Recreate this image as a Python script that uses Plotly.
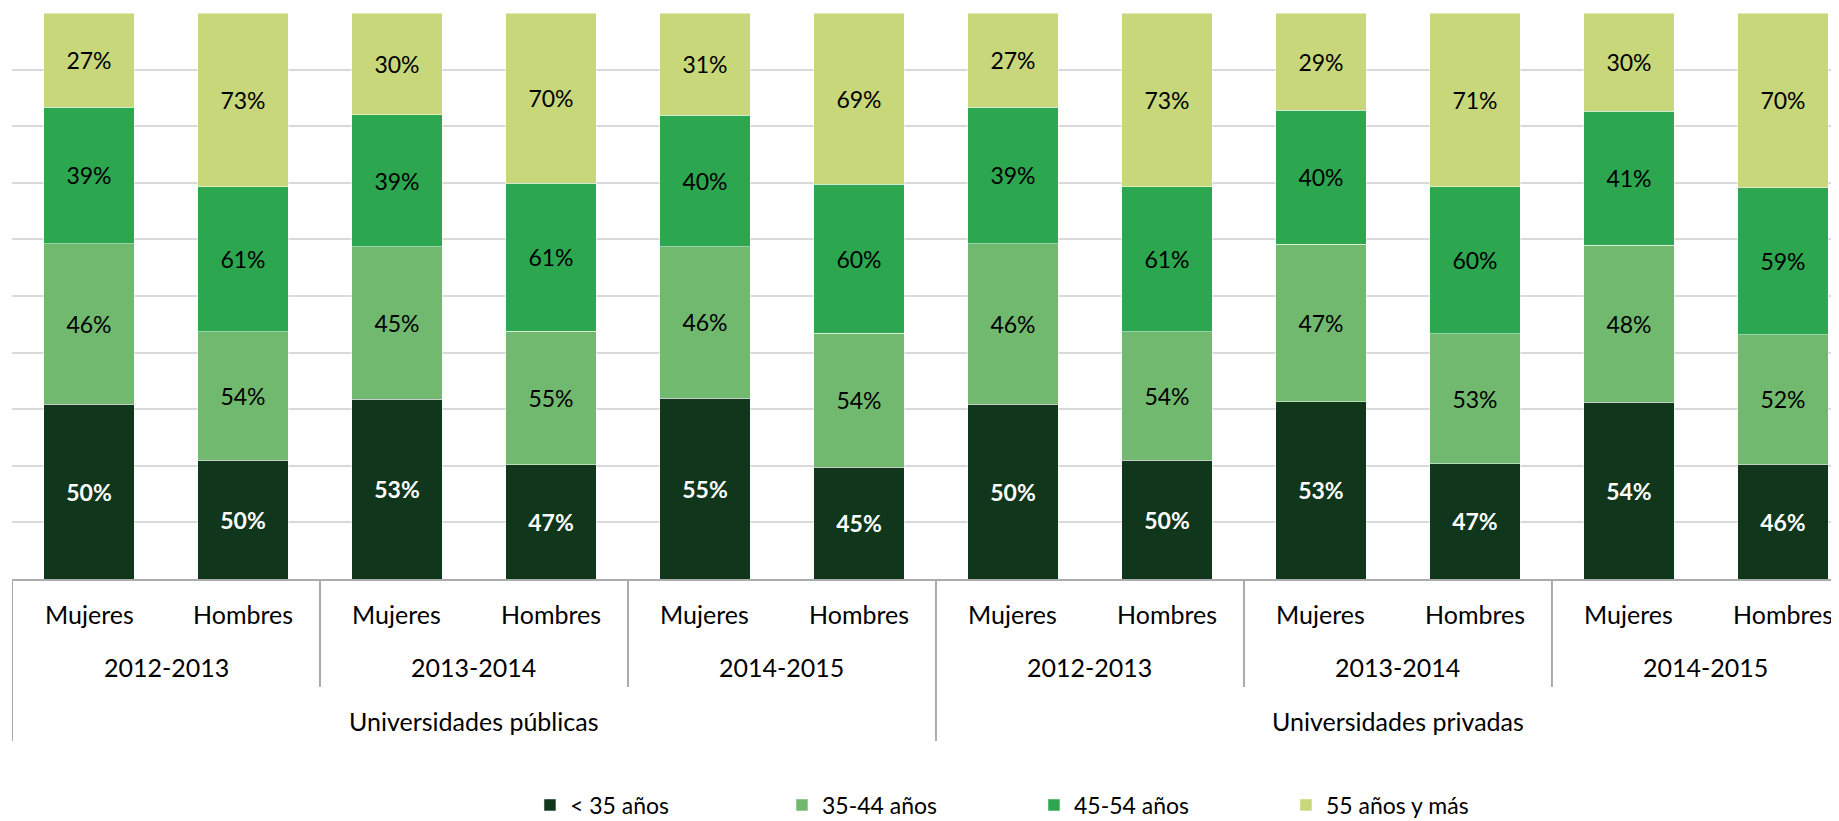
import plotly.graph_objects as go

# categories: (university type, school year, sex) in the order of the bars
groups = ['Universidades públicas', 'Universidades privadas']
years = ['2012-2013', '2013-2014', '2014-2015']
sexes = ['Mujeres', 'Hombres']

series_names = ['< 35 años', '35-44 años', '45-54 años', '55 años y más']
lt35 = [50, 50, 53, 47, 55, 45, 50, 50, 53, 47, 54, 46]
a35_44 = [46, 54, 45, 55, 46, 54, 46, 54, 47, 53, 48, 52]
a45_54 = [39, 61, 39, 61, 40, 60, 39, 61, 40, 60, 41, 59]
a55 = [27, 73, 30, 70, 31, 69, 27, 73, 29, 71, 30, 70]

colors = ['#10361C', '#71B96F', '#2DA650', '#C7D77A']
FONT = 'Lato'

n = len(groups) * len(years) * len(sexes)
xs = list(range(n))

fig = go.Figure()
for name, vals, col in zip(series_names, [lt35, a35_44, a45_54, a55], colors):
    first = name == series_names[0]
    fig.add_trace(go.Bar(
        x=xs, y=vals, name=name,
        marker=dict(color=col, line=dict(color='white', width=0.5)),
        width=0.59,
        text=[f'{v}%' for v in vals],
        textposition='inside', insidetextanchor='middle', textangle=0,
        constraintext='none',
        textfont=dict(family=FONT, size=23,
                      color='white' if first else 'black',
                      weight='bold' if first else 'normal'),
        hoverinfo='skip',
    ))

# plot area is 566 px tall, bottom at pixel 579 of the page
def py(p):
    return (579 - p) / 566

ann = []
shapes = []
i = 0
for g_idx, g in enumerate(groups):
    for y_idx, yr in enumerate(years):
        for s in sexes:
            ann.append(dict(x=i, y=py(614), text=s))
            i += 1
        ann.append(dict(x=i - 1.5, y=py(667), text=yr))
    ann.append(dict(x=g_idx * 6 + 2.5, y=py(721), text=g))

for a in ann:
    a.update(xref='x', yref='paper', showarrow=False, yanchor='middle',
             font=dict(family=FONT, size=25, color='black'))

for xv in [-0.5, 5.5]:
    shapes.append(dict(type='line', xref='x', yref='paper', x0=xv, x1=xv,
                       y0=0, y1=py(741), line=dict(color='#ABABAB', width=2)))
for xv in [1.5, 3.5, 7.5, 9.5]:
    shapes.append(dict(type='line', xref='x', yref='paper', x0=xv, x1=xv,
                       y0=0, y1=py(687), line=dict(color='#ABABAB', width=2)))

# the page body has an 8px margin, so the figure is 8px smaller each way
fig.update_layout(
    barmode='stack', barnorm='percent',
    width=1831, height=813,
    margin=dict(l=4, r=0, t=5, b=242, autoexpand=False),
    plot_bgcolor='white', paper_bgcolor='white',
    font=dict(family=FONT, color='black'),
    annotations=ann, shapes=shapes,
    showlegend=True,
    legend=dict(orientation='h', x=0.2835, y=py(805), xanchor='left', yanchor='middle',
                font=dict(family=FONT, size=23, color='black'),
                entrywidth=207, entrywidthmode='pixels', traceorder='normal'),
    xaxis=dict(range=[-0.5, 11.364], showticklabels=False, showgrid=False,
               zeroline=False, showline=True, linecolor='#ABABAB', linewidth=2,
               ticks=''),
    yaxis=dict(range=[0, 100], dtick=10, showticklabels=False, showgrid=True,
               gridcolor='#D9D9D9', gridwidth=2, zeroline=False, showline=False),
)

fig.write_html('out.html')
